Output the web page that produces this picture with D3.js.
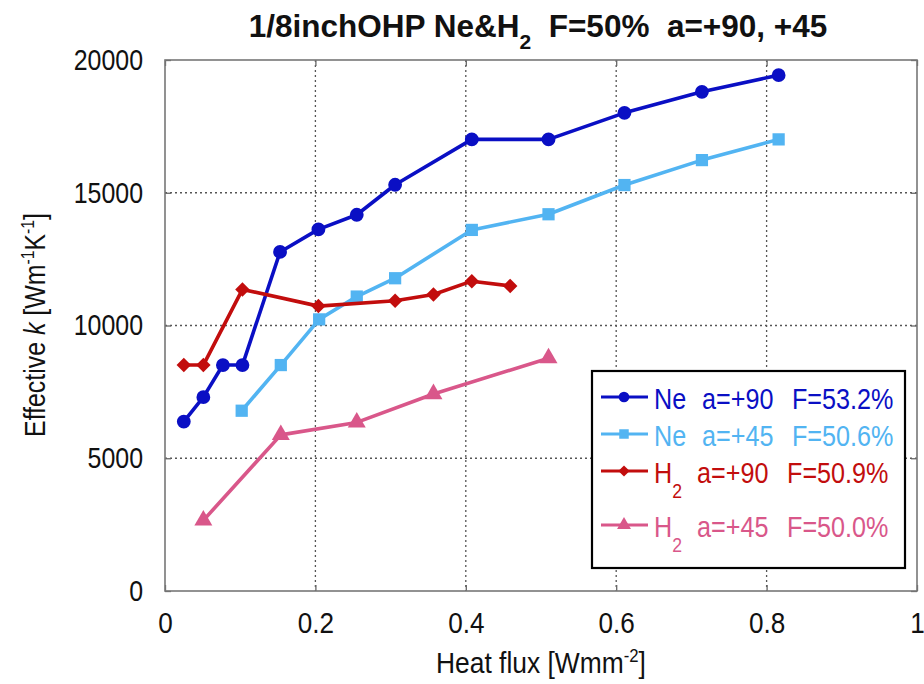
<!DOCTYPE html>
<html><head><meta charset="utf-8">
<script src="https://cdn.jsdelivr.net/npm/d3@7"></script>
<style>
body{margin:0;background:#fff}
text{font-family:"Liberation Sans",Arial,sans-serif}
</style>
</head><body>
<svg id="chart" width="924" height="684"></svg>
<script>
// Heat flux [W/mm^2] and effective thermal conductivity [W/(m K)] per run
const heatFluxNe90 = [0.025, 0.051, 0.077, 0.103, 0.153, 0.204, 0.255, 0.306, 0.408, 0.510, 0.611, 0.714, 0.816];
const kNe90        = [6380, 7300, 8510, 8510, 12770, 13620, 14170, 15300, 17010, 17010, 18010, 18800, 19430];
const heatFluxNe45 = [0.102, 0.154, 0.205, 0.255, 0.306, 0.408, 0.510, 0.611, 0.714, 0.816];
const kNe45        = [6790, 8510, 10230, 11090, 11780, 13600, 14190, 15290, 16230, 17010];
const heatFluxH90  = [0.025, 0.051, 0.103, 0.204, 0.306, 0.357, 0.408, 0.459];
const kH90         = [8510, 8510, 11360, 10730, 10930, 11170, 11670, 11490];
const heatFluxH45  = [0.051, 0.154, 0.255, 0.357, 0.510];
const kH45         = [2660, 5880, 6350, 7420, 8770];

const xTicks = [0, 0.2, 0.4, 0.6, 0.8, 1];
const yTicks = [0, 5000, 10000, 15000, 20000];

const seriesColors = ["#0a0fc4", "#52b4f2", "#c20d0d", "#d9578a"];

const series = [
  {xs: heatFluxNe90, ys: kNe90, color: seriesColors[0], symbol: d3.symbolCircle, size: 150, rot: 0,
   gas: "Ne", sub: "", angle: "a=+90", fill: "F=53.2%"},
  {xs: heatFluxNe45, ys: kNe45, color: seriesColors[1], symbol: d3.symbolSquare, size: 150, rot: 0,
   gas: "Ne", sub: "", angle: "a=+45", fill: "F=50.6%"},
  {xs: heatFluxH90, ys: kH90, color: seriesColors[2], symbol: d3.symbolSquare, size: 105, rot: 45,
   gas: "H", sub: "2", angle: "a=+90", fill: "F=50.9%"},
  {xs: heatFluxH45, ys: kH45, color: seriesColors[3], symbol: d3.symbolTriangle, size: 140, rot: 0,
   gas: "H", sub: "2", angle: "a=+45", fill: "F=50.0%"}
];

// narrow the glyphs horizontally around a chosen anchor of the text box
function squeeze(sel, k, origin) {
  sel.style("transform-box", "fill-box").style("transform-origin", origin)
     .style("transform", `scaleX(${k})`);
}

const svg = d3.select("#chart");
const L = 165, R = 917, T = 60, B = 591;
const x = d3.scaleLinear().domain([0, 1]).range([L, R]);
const y = d3.scaleLinear().domain([0, 20000]).range([B, T]);

// dotted grid
const grid = svg.append("g").attr("stroke", "#555").attr("stroke-width", 1.3).attr("stroke-dasharray", "2,3");
grid.selectAll(".gx").data(xTicks.filter(d => d > 0 && d < 1)).join("line")
  .attr("x1", d => x(d)).attr("x2", d => x(d)).attr("y1", T).attr("y2", B);
grid.selectAll(".gy").data(yTicks.filter(d => d > 0 && d < 20000)).join("line")
  .attr("y1", d => y(d)).attr("y2", d => y(d)).attr("x1", L).attr("x2", R);

// axes with inward ticks
const fmtX = d => (d === 0 || d === 1) ? String(d) : d3.format(".1f")(d);
const axB = svg.append("g").attr("transform", `translate(0,${B})`)
  .call(d3.axisBottom(x).tickValues(xTicks).tickFormat(fmtX).tickSize(-6).tickPadding(21));
const axT = svg.append("g").attr("transform", `translate(0,${T})`)
  .call(d3.axisTop(x).tickValues(xTicks).tickFormat("").tickSize(-6));
const axL = svg.append("g").attr("transform", `translate(${L},0)`)
  .call(d3.axisLeft(y).tickValues(yTicks).tickFormat(d3.format("d")).tickSize(-6).tickPadding(22));
const axR = svg.append("g").attr("transform", `translate(${R},0)`)
  .call(d3.axisRight(y).tickValues(yTicks).tickFormat("").tickSize(-6));
[axB, axT, axL, axR].forEach(g => {
  g.select(".domain").remove();
  g.selectAll(".tick line").attr("stroke", "#666").attr("stroke-width", 1.3);
  g.selectAll("text").attr("fill", "#111").style("font-size", "29px").style("font-family", null);
});
squeeze(axB.selectAll("text"), 0.9, "center");
squeeze(axL.selectAll("text"), 0.86, "right center");

// frame
svg.append("rect").attr("x", L).attr("y", T).attr("width", R - L).attr("height", B - T)
  .attr("fill", "none").attr("stroke", "#777").attr("stroke-width", 1.6);

// series lines and markers
const line = d3.line().x(d => x(d[0])).y(d => y(d[1]));
series.forEach(s => {
  const pts = s.xs.map((v, i) => [v, s.ys[i]]);
  svg.append("path").datum(pts).attr("d", line)
    .attr("fill", "none").attr("stroke", s.color).attr("stroke-width", 3.6).attr("stroke-linejoin", "round");
  svg.append("g").selectAll("path").data(pts).join("path")
    .attr("transform", d => `translate(${x(d[0])},${y(d[1])}) rotate(${s.rot})`)
    .attr("d", d3.symbol().type(s.symbol).size(s.size))
    .attr("fill", s.color);
});

// legend
const lg = svg.append("g");
lg.append("rect").attr("x", 592).attr("y", 371).attr("width", 313).attr("height", 197)
  .attr("fill", "#fff").attr("stroke", "#000").attr("stroke-width", 2.2);
const rowY = [397, 434, 471, 525];
series.forEach((s, i) => {
  const cy = rowY[i];
  lg.append("line").attr("x1", 601).attr("x2", 648).attr("y1", cy).attr("y2", cy)
    .attr("stroke", s.color).attr("stroke-width", 3);
  lg.append("path").attr("transform", `translate(624,${cy}) rotate(${s.rot})`)
    .attr("d", d3.symbol().type(s.symbol).size(s.size * 0.6)).attr("fill", s.color);
  const piece = (px, txt) => {
    const t = lg.append("text").attr("x", px).attr("y", cy + 12).attr("fill", s.color).style("font-size", "30px");
    t.append("tspan").text(txt);
    squeeze(t, 0.84, "left center");
    return t;
  };
  const g = piece(654, s.gas);
  if (s.sub) {
    g.append("tspan").attr("dy", 15).style("font-size", "21px").text(s.sub);
    piece(697, s.angle);
    piece(787, s.fill);
  } else {
    piece(702, s.angle);
    piece(792, s.fill);
  }
});

// title
const title = svg.append("text").attr("x", 538).attr("y", 37).attr("text-anchor", "middle")
  .style("font-size", "31.5px").style("font-weight", "bold").attr("fill", "#111");
title.append("tspan").text("1/8inchOHP Ne&H");
title.append("tspan").attr("dy", 12).style("font-size", "21px").text("2");
title.append("tspan").attr("dy", -12).text("\u00a0 F=50%\u00a0 a=+90, +45");

// axis labels
const xl = svg.append("text").attr("x", 541).attr("y", 673).attr("text-anchor", "middle")
  .style("font-size", "30px").attr("fill", "#111");
xl.append("tspan").text("Heat flux [Wmm");
xl.append("tspan").attr("dy", -11).style("font-size", "19px").text("-2");
xl.append("tspan").attr("dy", 11).text("]");
squeeze(xl, 0.88, "center");

const ylg = svg.append("g").attr("transform", "translate(45,325) rotate(-90)");
const yl = ylg.append("text").attr("text-anchor", "middle").style("font-size", "30px").attr("fill", "#111");
yl.append("tspan").text("Effective ");
yl.append("tspan").style("font-style", "italic").text("k");
yl.append("tspan").text(" [Wm");
yl.append("tspan").attr("dy", -11).style("font-size", "19px").text("-1");
yl.append("tspan").attr("dy", 11).text("K");
yl.append("tspan").attr("dy", -11).style("font-size", "19px").text("-1");
yl.append("tspan").attr("dy", 11).text("]");
squeeze(yl, 0.83, "center");
</script>
</body></html>
